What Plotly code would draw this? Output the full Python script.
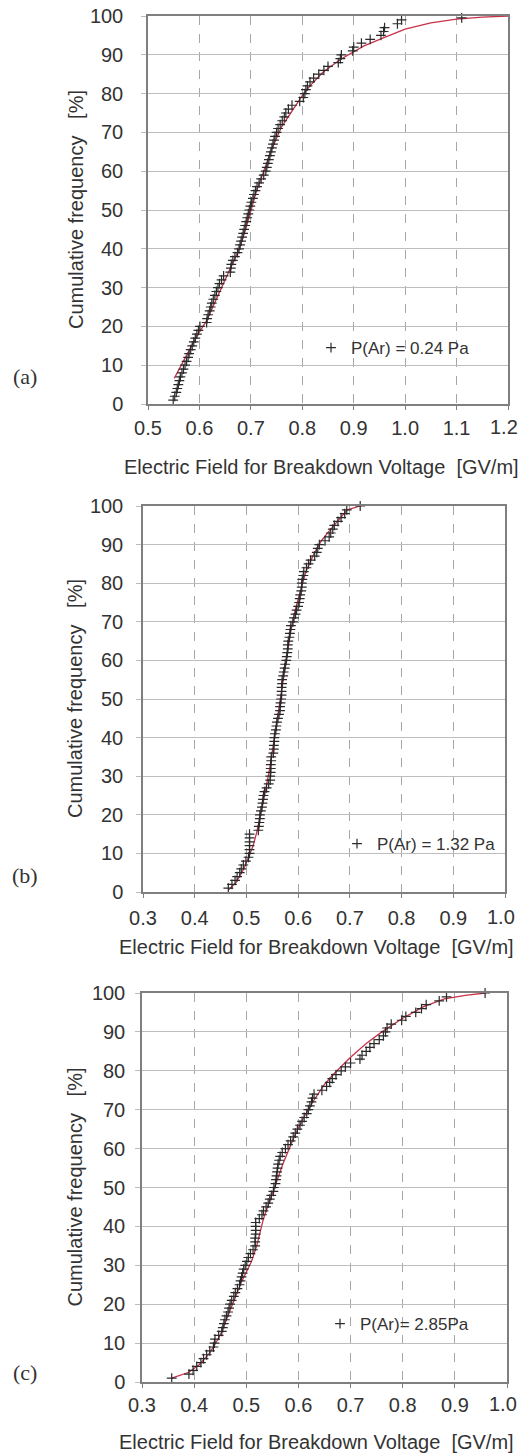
import plotly.graph_objects as go

# ---------------- data ----------------
# (a) P(Ar) = 0.24 Pa
a_y = [1, 2, 3, 4, 5, 6, 7, 8, 9, 10, 11, 12, 13, 14, 15, 16, 17, 18, 19, 20,
       21, 22, 23, 24, 25, 26, 27, 28, 29, 30, 31, 32, 33, 34, 35, 36, 37, 38, 39, 40,
       41, 42, 43, 44, 45, 46, 47, 48, 49, 50, 51, 52, 53, 54, 55, 56, 57, 58, 59, 60,
       61, 62, 63, 64, 65, 66, 67, 68, 69, 70, 71, 72, 73, 74, 75, 76, 77, 78, 79, 80,
       81, 82, 83, 84, 85, 86, 87, 88, 89, 90, 91, 92, 93, 94, 95, 96, 97, 98, 99, 99.5]
a_x = [0.549, 0.552, 0.555, 0.557, 0.559, 0.561, 0.563, 0.566, 0.569, 0.572,
       0.575, 0.578, 0.580, 0.583, 0.586, 0.589, 0.592, 0.595, 0.598, 0.601,
       0.614, 0.615, 0.617, 0.620, 0.622, 0.624, 0.627, 0.630, 0.633, 0.636,
       0.639, 0.643, 0.647, 0.660, 0.661, 0.662, 0.665, 0.669, 0.674, 0.677,
       0.679, 0.681, 0.683, 0.685, 0.687, 0.689, 0.691, 0.693, 0.695, 0.697,
       0.699, 0.701, 0.704, 0.706, 0.709, 0.712, 0.716, 0.720, 0.725, 0.729,
       0.731, 0.733, 0.735, 0.737, 0.739, 0.741, 0.743, 0.745, 0.747, 0.750,
       0.753, 0.757, 0.761, 0.765, 0.768, 0.773, 0.780, 0.795, 0.802, 0.805,
       0.807, 0.810, 0.815, 0.822, 0.832, 0.842, 0.850, 0.870, 0.874, 0.876,
       0.898, 0.900, 0.915, 0.932, 0.953, 0.958, 0.960, 0.985, 0.993, 1.110]
a_fit_x = [0.551, 0.575, 0.595, 0.614, 0.635, 0.656, 0.670, 0.679, 0.690, 0.698,
           0.710, 0.725, 0.740, 0.760, 0.780, 0.800, 0.815, 0.840, 0.874, 0.920,
           0.960, 1.000, 1.050, 1.100, 1.150, 1.200]
a_fit_y = [6.6, 12.5, 17.5, 21.5, 27.5, 33.5, 37.5, 40.5, 45.0, 49.0,
           54.5, 60.0, 65.5, 71.5, 75.5, 79.5, 82.0, 85.5, 88.8, 92.3,
           94.5, 96.6, 98.2, 99.2, 99.7, 100.0]

# (b) P(Ar) = 1.32 Pa
b_y = [1, 2, 3, 4, 5, 6, 7, 8, 9, 10, 11, 12, 13, 14, 15, 16, 17, 18, 19, 20,
       21, 22, 23, 24, 25, 26, 27, 28, 29, 30, 31, 32, 33, 34, 35, 36, 37, 38, 39, 40,
       41, 42, 43, 44, 45, 46, 47, 48, 49, 50, 51, 52, 53, 54, 55, 56, 57, 58, 59, 60,
       61, 62, 63, 64, 65, 66, 67, 68, 69, 70, 71, 72, 73, 74, 75, 76, 77, 78, 79, 80,
       81, 82, 83, 84, 85, 86, 87, 88, 89, 90, 91, 92, 93, 94, 95, 96, 97, 98, 99, 100]
b_x = [0.465, 0.472, 0.478, 0.482, 0.487, 0.490, 0.494, 0.499, 0.504, 0.506,
       0.506, 0.506, 0.506, 0.506, 0.506, 0.523, 0.524, 0.525, 0.526, 0.526,
       0.528, 0.530, 0.531, 0.532, 0.533, 0.535, 0.539, 0.543, 0.546, 0.546,
       0.547, 0.547, 0.547, 0.548, 0.548, 0.552, 0.553, 0.553, 0.554, 0.554,
       0.555, 0.557, 0.558, 0.559, 0.561, 0.563, 0.565, 0.565, 0.566, 0.567,
       0.568, 0.568, 0.568, 0.569, 0.569, 0.571, 0.572, 0.574, 0.575, 0.577,
       0.578, 0.579, 0.580, 0.580, 0.581, 0.583, 0.584, 0.585, 0.586, 0.590,
       0.592, 0.595, 0.597, 0.600, 0.602, 0.603, 0.604, 0.606, 0.607, 0.607,
       0.608, 0.610, 0.611, 0.616, 0.620, 0.624, 0.632, 0.636, 0.638, 0.641,
       0.652, 0.660, 0.663, 0.667, 0.670, 0.677, 0.683, 0.690, 0.694, 0.720]
b_fit_x = [0.465, 0.480, 0.495, 0.505, 0.513, 0.520, 0.526, 0.535, 0.545, 0.555,
           0.565, 0.575, 0.585, 0.595, 0.605, 0.615, 0.630, 0.645, 0.660, 0.680,
           0.695, 0.720]
b_fit_y = [0.5, 2.5, 6.0, 9.5, 12.0, 15.5, 19.0, 25.0, 32.0, 41.0,
           50.0, 59.0, 67.0, 73.5, 78.5, 83.0, 87.5, 91.0, 93.5, 96.5,
           99.0, 100.0]

# (c) P(Ar) = 2.85 Pa
c_y = [1, 2, 3, 4, 5, 6, 7, 8, 9, 10, 11, 12, 13, 14, 15, 16, 17, 18, 19, 20,
       21, 22, 23, 24, 25, 26, 27, 28, 29, 30, 31, 32, 33, 34, 35, 36, 37, 38, 39, 40,
       41, 42, 43, 44, 45, 46, 47, 48, 49, 50, 51, 52, 53, 54, 55, 56, 57, 58, 59, 60,
       61, 62, 63, 64, 65, 66, 67, 68, 69, 70, 71, 72, 73, 74, 75, 76, 77, 78, 79, 80,
       81, 82, 83, 84, 85, 86, 87, 88, 89, 90, 91, 92, 93, 94, 95, 96, 97, 98, 99, 100]
c_x = [0.357, 0.390, 0.398, 0.405, 0.413, 0.418, 0.424, 0.430, 0.437, 0.439,
       0.440, 0.447, 0.453, 0.455, 0.457, 0.459, 0.462, 0.465, 0.467, 0.469,
       0.472, 0.476, 0.479, 0.483, 0.487, 0.489, 0.491, 0.493, 0.495, 0.498,
       0.501, 0.504, 0.508, 0.513, 0.517, 0.517, 0.517, 0.518, 0.518, 0.518,
       0.518, 0.525, 0.530, 0.533, 0.538, 0.542, 0.545, 0.548, 0.552, 0.553,
       0.556, 0.557, 0.558, 0.559, 0.560, 0.561, 0.563, 0.565, 0.569, 0.575,
       0.580, 0.585, 0.590, 0.594, 0.598, 0.603, 0.607, 0.611, 0.616, 0.619,
       0.622, 0.625, 0.627, 0.630, 0.645, 0.654, 0.660, 0.665, 0.672, 0.682,
       0.690, 0.700, 0.718, 0.722, 0.730, 0.737, 0.745, 0.755, 0.763, 0.767,
       0.770, 0.778, 0.798, 0.806, 0.825, 0.836, 0.845, 0.870, 0.884, 0.958]
c_fit_x = [0.357, 0.390, 0.410, 0.430, 0.450, 0.470, 0.490, 0.510, 0.520, 0.533,
           0.550, 0.570, 0.590, 0.610, 0.630, 0.650, 0.670, 0.700, 0.730, 0.760,
           0.800, 0.840, 0.880, 0.920, 0.958]
c_fit_y = [1.0, 2.5, 4.5, 7.5, 12.0, 18.5, 25.5, 31.0, 35.0, 42.0,
           48.5, 56.0, 62.5, 68.0, 72.5, 76.5, 79.5, 83.5, 87.0, 90.0,
           93.5, 96.5, 98.5, 99.4, 100.0]

panel_labels = ["(a)", "(b)", "(c)"]
legend_texts = ["P(Ar) = 0.24 Pa", "P(Ar) = 1.32 Pa", "P(Ar)= 2.85Pa"]
a_xticks = [0.5, 0.6, 0.7, 0.8, 0.9, 1.0, 1.1, 1.2]
bc_xticks = [0.3, 0.4, 0.5, 0.6, 0.7, 0.8, 0.9, 1.0]
x_tick_sets = [a_xticks, bc_xticks, bc_xticks]
y_ticks = [0, 10, 20, 30, 40, 50, 60, 70, 80, 90, 100]
NB = "\u00a0"
x_title = "Electric Field for Breakdown Voltage " + NB + "[GV/m]"
y_title = "Cumulative frequency " + NB + NB + "[%]"

# ---------------- layout geometry ----------------
W, H = 519, 1454
# pixel boxes of each plot area: left, right, top, bottom
boxes = [(148, 508, 16, 404), (143, 505, 506, 892), (142, 507, 993, 1382)]
xtitle_pos = [(321, 467), (316, 947), (316, 1442)]
xlabel_y = [427, 917, 1404]
label_y = [377, 875, 1372]
ytitle_x = [76, 75, 74]
legend_pos = [(311, 348), (337, 844), (320, 1324)]
ylab_standoff = [14, 9, 6]
xlab_standoff = [1, 3, 0]

FONT = "Liberation Sans, Arial, sans-serif"
TXT = "#333333"
RED = "#c8324a"

fig = go.Figure()
datasets = [(a_x, a_y, a_fit_x, a_fit_y), (b_x, b_y, b_fit_x, b_fit_y), (c_x, c_y, c_fit_x, c_fit_y)]
for i, (px_, py_, fx, fy) in enumerate(datasets):
    sfx = "" if i == 0 else str(i + 1)
    lg = "legend" if i == 0 else "legend" + str(i + 1)
    fig.add_trace(go.Scatter(x=fx, y=fy, mode="lines", line=dict(color=RED, width=1.3),
                             xaxis="x" + sfx, yaxis="y" + sfx, showlegend=False,
                             cliponaxis=False, hoverinfo="skip"))
    fig.add_trace(go.Scatter(x=px_, y=py_, mode="markers", name=legend_texts[i],
                             marker=dict(symbol="cross-thin", size=7,
                                         line=dict(color="#2a2a2a", width=1.2)),
                             xaxis="x" + sfx, yaxis="y" + sfx, legend=lg,
                             cliponaxis=False))

layout = dict(width=W, height=H, margin=dict(l=0, r=0, t=0, b=0, autoexpand=False),
              paper_bgcolor="white", plot_bgcolor="white",
              font=dict(family=FONT, color=TXT), annotations=[])
for i, (l, r, t, b) in enumerate(boxes):
    sfx = "" if i == 0 else str(i + 1)
    ticks_i = x_tick_sets[i]
    # last label is drawn separately (nudged inward so it stays on the page)
    ticktext = ["%.1f" % v for v in ticks_i[:-1]] + [""]
    xa = dict(domain=[l / W, r / W], range=[ticks_i[0], ticks_i[-1]],
              tickvals=ticks_i, ticktext=ticktext,
              anchor="y" + sfx, showgrid=True, gridcolor="#a6a6a6", griddash="dash",
              gridwidth=1, showline=True, linecolor="#7f7f7f", linewidth=1.5, mirror=True,
              ticks="outside", ticklen=4, tickcolor="#7f7f7f", automargin=False,
              tickfont=dict(size=20, family=FONT, color=TXT), ticklabeloverflow="allow",
              ticklabelstandoff=xlab_standoff[i], zeroline=False, fixedrange=True)
    ya = dict(domain=[1 - b / H, 1 - t / H], range=[0, 100], tickvals=y_ticks,
              anchor="x" + sfx, showgrid=True, gridcolor="#bdbdbd", gridwidth=1,
              showline=True, linecolor="#7f7f7f", linewidth=1.5, mirror=True,
              ticks="outside", ticklen=5, tickcolor="#bdbdbd", automargin=False,
              tickfont=dict(size=20, family=FONT, color=TXT), ticklabeloverflow="allow",
              ticklabelstandoff=ylab_standoff[i], zeroline=False, fixedrange=True)
    layout["xaxis" + sfx] = xa
    layout["yaxis" + sfx] = ya
    lg = "legend" if i == 0 else "legend" + str(i + 1)
    lx, ly = legend_pos[i]
    layout[lg] = dict(x=lx / W, y=1 - ly / H, xanchor="left", yanchor="middle",
                      bgcolor="rgba(0,0,0,0)", font=dict(size=17, family=FONT, color=TXT),
                      itemwidth=30)
    tx, ty = xtitle_pos[i]
    layout["annotations"] += [
        dict(text="%.1f" % ticks_i[-1], x=ticks_i[-1], xref="x" + sfx, xshift=-4,
             y=1 - xlabel_y[i] / H, yref="paper", showarrow=False,
             xanchor="center", yanchor="middle", font=dict(size=20, family=FONT, color=TXT)),
        dict(text=x_title, x=tx / W, y=1 - ty / H,
             xref="paper", yref="paper", showarrow=False, xanchor="center", yanchor="middle",
             font=dict(size=20, family=FONT, color=TXT)),
        dict(text=y_title, x=ytitle_x[i] / W, y=1 - (t + b) / 2 / H, textangle=-90,
             xref="paper", yref="paper", showarrow=False, xanchor="center", yanchor="middle",
             font=dict(size=20, family=FONT, color=TXT)),
        dict(text=panel_labels[i], x=25 / W, y=1 - label_y[i] / H,
             xref="paper", yref="paper", showarrow=False, xanchor="center", yanchor="middle",
             font=dict(size=22, family="Liberation Serif, Times New Roman, serif", color=TXT)),
    ]

fig.update_layout(**layout)
fig.write_html("out.html", config={"displayModeBar": False},
               post_script="document.body.style.margin='0';document.body.style.overflow='hidden';")
